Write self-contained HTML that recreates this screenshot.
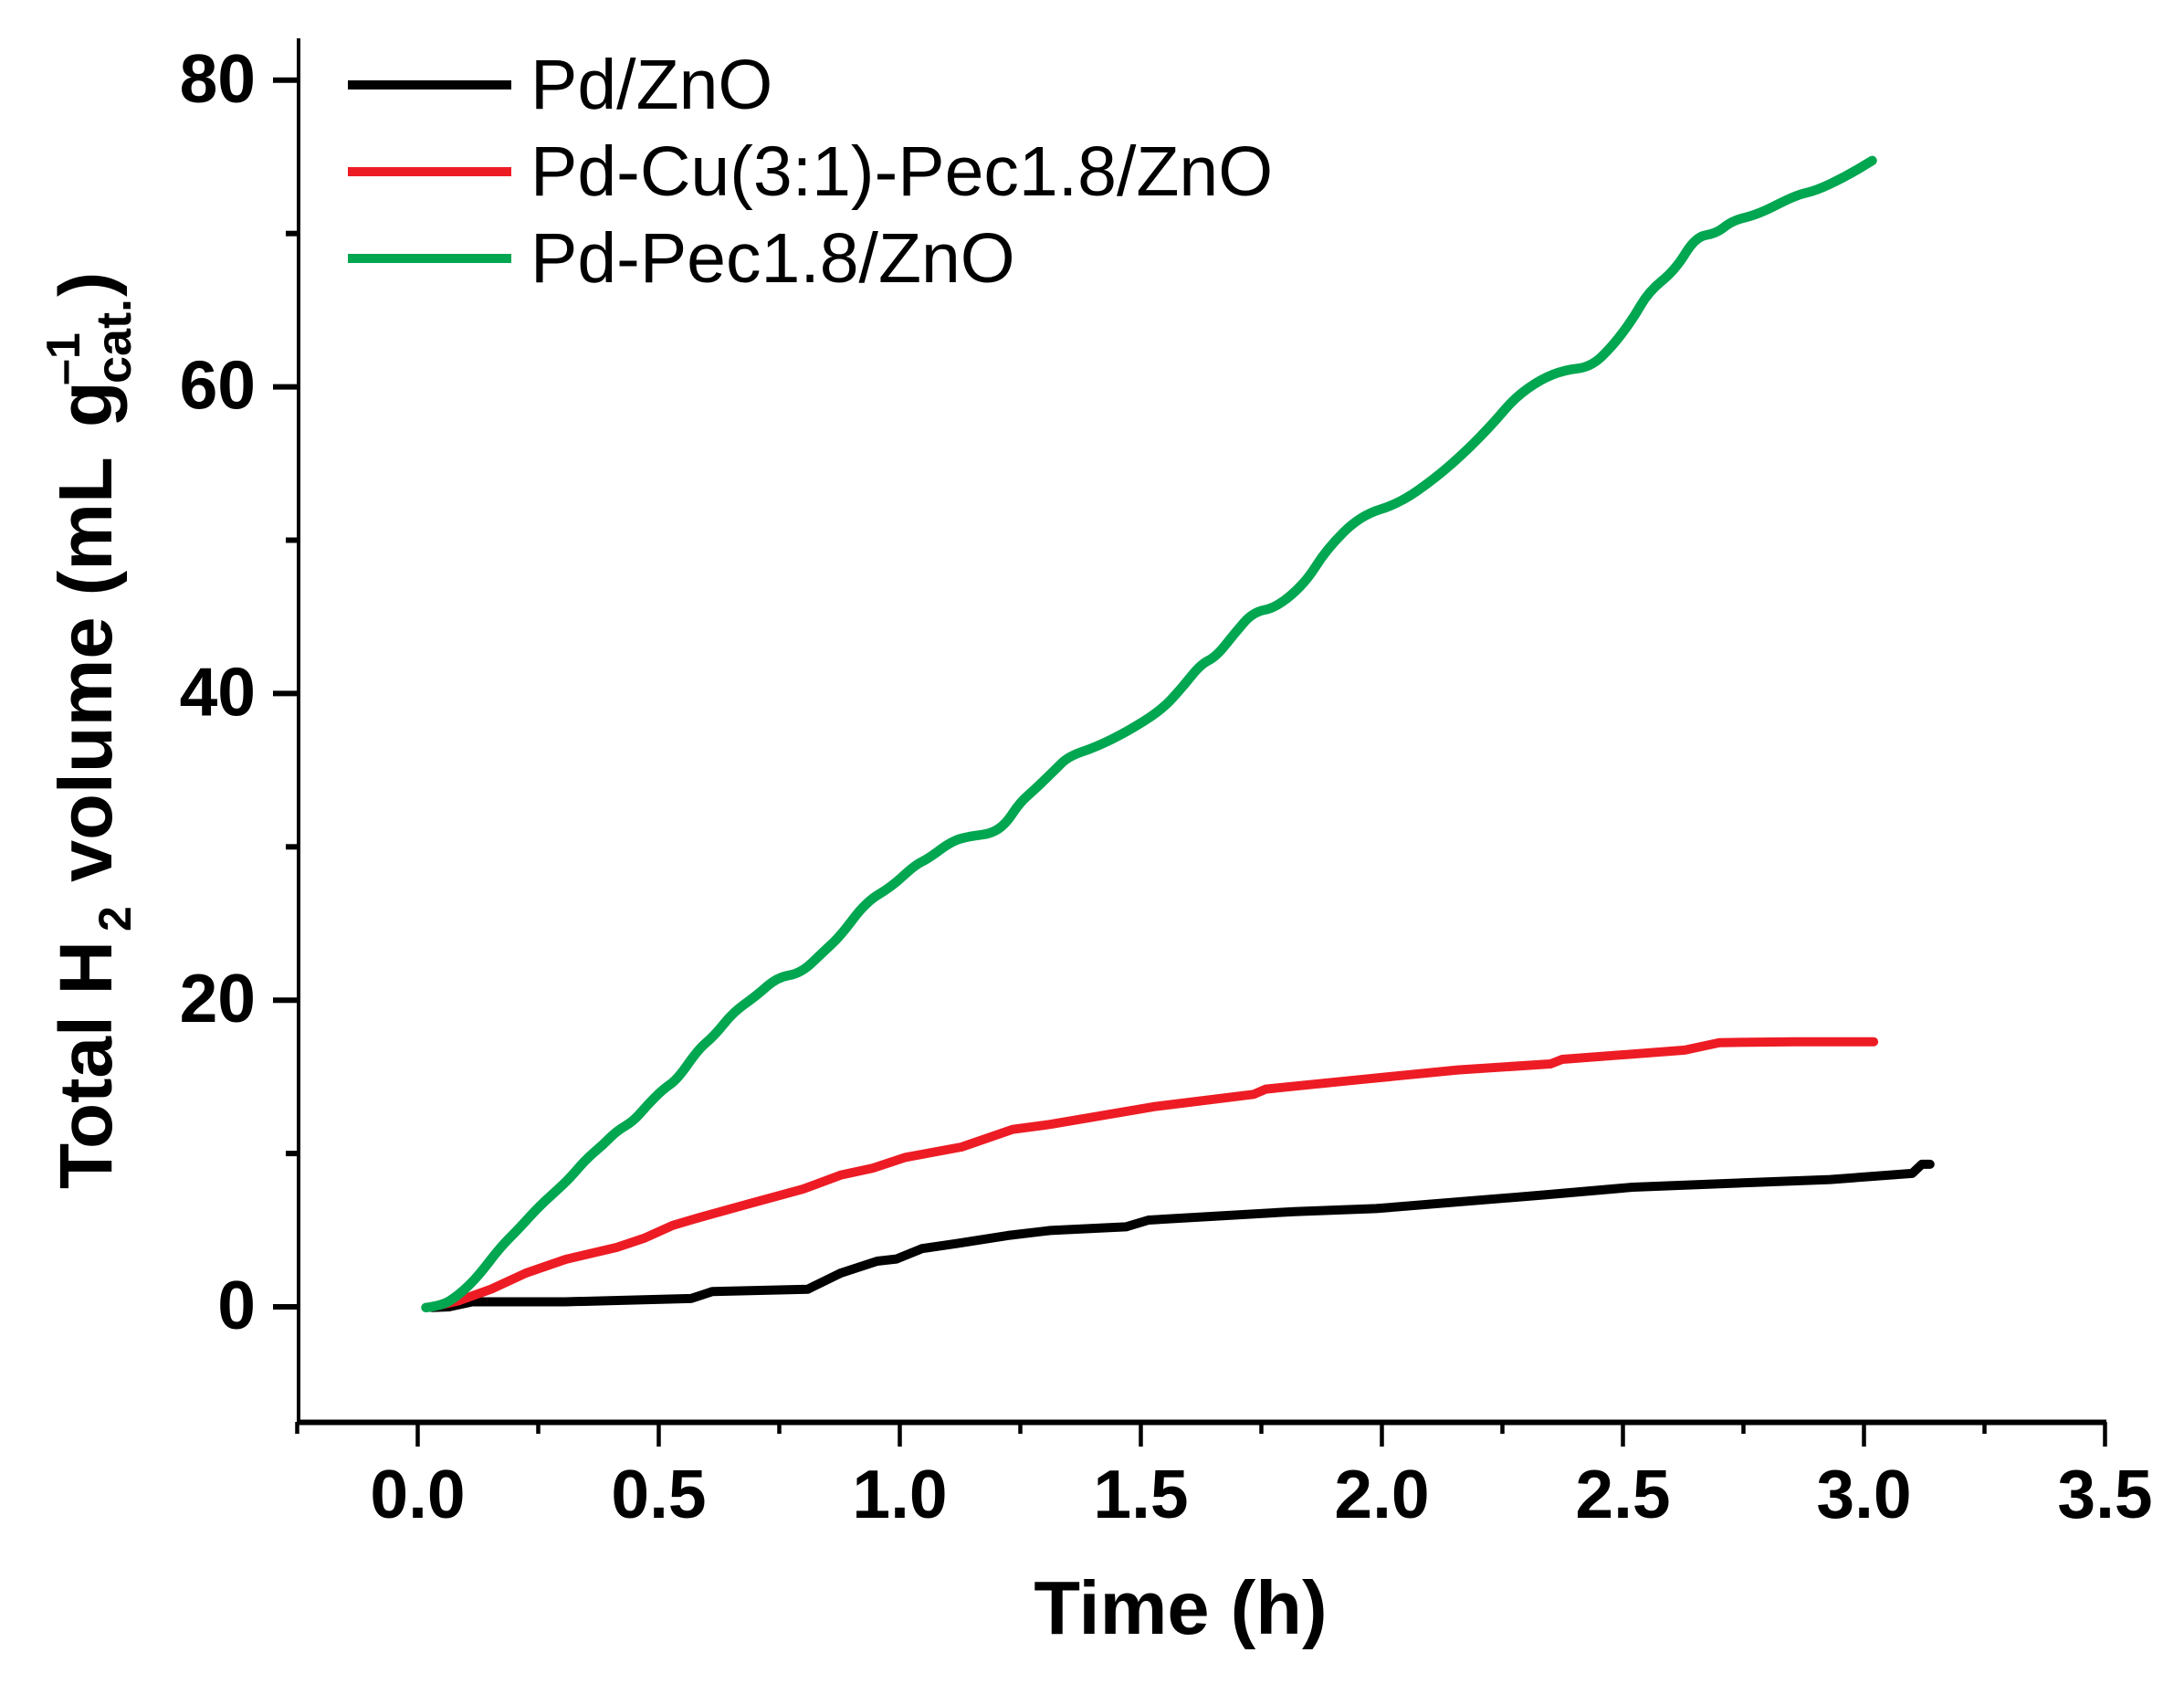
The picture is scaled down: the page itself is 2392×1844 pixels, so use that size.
<!DOCTYPE html>
<html lang="en">
<head>
<meta charset="utf-8">
<title>Total H2 volume over time</title>
<style>
html,body{margin:0;padding:0;background:#fff;width:2392px;height:1844px;overflow:hidden}
svg{display:block}
text{font-family:"Liberation Sans",Arial,sans-serif;fill:#000}
.b{font-weight:bold}
</style>
</head>
<body>
<svg id="chart" xmlns="http://www.w3.org/2000/svg" width="2392" height="1844" viewBox="0 0 2392 1844">
  <rect x="0" y="0" width="2392" height="1844" fill="#fff"/>
  <g id="ticks"></g>
  <rect x="325" y="42" width="4" height="1518" fill="#000"/>
  <rect x="325" y="1554.5" width="1982" height="6" fill="#000"/>
  <g id="series"></g>

  <g transform="translate(122,1302) rotate(-90)">
    <text class="b" x="0" y="0" font-size="82">Total H</text>
    <text class="b" x="282" y="21" font-size="50">2</text>
    <text class="b" x="336" y="0" font-size="83">volume (mL</text>
    <text class="b" x="834" y="0" font-size="83">g</text>
    <text class="b" x="882" y="21" font-size="54">cat.</text>
    <text class="b" x="880" y="-35" font-size="52">–1</text>
    <text class="b" x="977" y="0" font-size="82">)</text>
  </g>
  <text class="b" x="1293" y="1789" font-size="83" text-anchor="middle">Time (h)</text>

  <g>
    <g>
      <line x1="381" x2="560" y1="93" y2="93" stroke="#000" stroke-width="10"/>
      <text x="581" y="119" font-size="77">Pd/ZnO</text>
    </g>
    <g>
      <line x1="381" x2="560" y1="188" y2="188" stroke="#ed1c24" stroke-width="10"/>
      <text x="581" y="214" font-size="77">Pd-Cu(3:1)-Pec1.8/ZnO</text>
    </g>
    <g>
      <line x1="381" x2="560" y1="283" y2="283" stroke="#00a650" stroke-width="10"/>
      <text x="581" y="309" font-size="77">Pd-Pec1.8/ZnO</text>
    </g>
  </g>
</svg>
<script>
const xMajorTicks = [0, 0.5, 1, 1.5, 2, 2.5, 3, 3.5];
const xMajorLabels = ["0.0", "0.5", "1.0", "1.5", "2.0", "2.5", "3.0", "3.5"];
const xMinorTicks = [-0.25, 0.25, 0.75, 1.25, 1.75, 2.25, 2.75, 3.25];
const yMajorTicks = [0, 20, 40, 60, 80];
const yMajorLabels = ["0", "20", "40", "60", "80"];
const yMinorTicks = [10, 30, 50, 70];

const blackTime = [0.03,0.065,0.113,0.306,0.567,0.611,0.809,0.877,0.953,0.993,1.046,1.118,1.224,1.312,1.469,1.516,1.819,1.988,2.338,2.52,2.76,2.93,3.1,3.12,3.137];
const blackVolume = [-0.05,0,0.33,0.33,0.54,1.0,1.15,2.2,2.98,3.12,3.8,4.13,4.65,4.98,5.22,5.66,6.21,6.41,7.3,7.8,8.1,8.3,8.7,9.3,9.3];

const redTime = [0.03,0.084,0.152,0.224,0.307,0.413,0.471,0.529,0.587,0.693,0.799,0.877,0.944,1.012,1.128,1.234,1.312,1.529,1.734,1.759,1.964,2.157,2.35,2.374,2.628,2.7,2.857,3.02];
const redVolume = [0,0.39,1.15,2.2,3.1,3.88,4.49,5.31,5.85,6.77,7.68,8.59,9.05,9.75,10.42,11.57,11.9,13.06,13.86,14.2,14.85,15.45,15.84,16.14,16.74,17.23,17.29,17.29];

const greenTime = [0.017,0.051,0.084,0.123,0.171,0.21,0.253,0.297,0.321,0.35,0.384,0.413,0.447,0.476,0.509,0.538,0.582,0.616,0.654,0.703,0.746,0.795,0.843,0.877,0.93,0.983,1.031,1.06,1.109,1.147,1.19,1.22,1.249,1.282,1.321,1.35,1.406,1.471,1.542,1.586,1.624,1.656,1.694,1.732,1.781,1.841,1.885,1.955,2.037,2.113,2.178,2.233,2.276,2.33,2.379,2.433,2.477,2.52,2.553,2.608,2.651,2.694,2.727,2.781,2.858,2.901,2.961,3.017];
const greenVolume = [-0.05,0.08,0.75,1.9,3.88,5.1,6.6,7.83,8.6,9.65,10.56,11.48,12.09,13.15,14.2,14.82,16.8,17.7,19.2,20.3,21.5,21.75,23.2,24.2,26.4,27.4,28.8,29.25,30.4,30.7,30.86,31.5,32.9,33.8,35.0,35.9,36.5,37.5,38.9,40.4,41.9,42.4,43.9,45.3,45.6,47.2,49.4,51.6,52.4,54.1,55.9,57.7,59.3,60.5,61.1,61.3,62.6,64.4,66.2,67.6,69.8,70.0,70.85,71.25,72.5,72.8,73.7,74.75];

const NS = "http://www.w3.org/2000/svg";
function xScale(t) { return 457.5 + 528 * t; }
function yScale(v) { return 1431 - 16.79 * v; }

function makeLine(x1, y1, x2, y2, w) {
  const el = document.createElementNS(NS, "line");
  el.setAttribute("x1", x1);
  el.setAttribute("y1", y1);
  el.setAttribute("x2", x2);
  el.setAttribute("y2", y2);
  el.setAttribute("stroke", "#000");
  el.setAttribute("stroke-width", w);
  return el;
}
function makeLabel(x, y, anchor, str) {
  const el = document.createElementNS(NS, "text");
  el.setAttribute("x", x);
  el.setAttribute("y", y);
  el.setAttribute("text-anchor", anchor);
  el.setAttribute("font-size", "75");
  el.setAttribute("class", "b");
  el.textContent = str;
  return el;
}

const tickGroup = document.getElementById("ticks");
xMajorTicks.forEach(function (t, i) {
  const tick = makeLine(xScale(t), 1557, xScale(t), 1584, 4.5);
  
  
  tickGroup.appendChild(tick);
  const label = makeLabel(xScale(t), 1662, "middle", xMajorLabels[i]);
  
  
  tickGroup.appendChild(label);
});
xMinorTicks.forEach(function (t) {
  const tick = makeLine(xScale(t), 1557, xScale(t), 1570, 4.5);
  
  
  tickGroup.appendChild(tick);
});
yMajorTicks.forEach(function (v, i) {
  const tick = makeLine(299, yScale(v), 327, yScale(v), 6);
  
  
  tickGroup.appendChild(tick);
  const label = makeLabel(280, yScale(v) + 24, "end", yMajorLabels[i]);
  
  
  tickGroup.appendChild(label);
});
yMinorTicks.forEach(function (v) {
  const tick = makeLine(313, yScale(v), 327, yScale(v), 6);
  
  
  tickGroup.appendChild(tick);
});

function makeSeries(times, values, color, width, smooth) {
  const el = document.createElementNS(NS, "path");
  const pts = times.map(function (t, i) {
    return [xScale(t), yScale(values[i])];
  });
  let d = "M" + pts[0][0].toFixed(1) + " " + pts[0][1].toFixed(1);
  for (let i = 1; i < pts.length; i++) {
    if (smooth && i < pts.length - 1) {
      const mx = (pts[i][0] + pts[i + 1][0]) / 2;
      const my = (pts[i][1] + pts[i + 1][1]) / 2;
      d += " Q" + pts[i][0].toFixed(1) + " " + pts[i][1].toFixed(1) + " " + mx.toFixed(1) + " " + my.toFixed(1);
    } else {
      d += " L" + pts[i][0].toFixed(1) + " " + pts[i][1].toFixed(1);
    }
  }
  el.setAttribute("d", d);
  el.setAttribute("fill", "none");
  el.setAttribute("stroke", color);
  el.setAttribute("stroke-width", width);
  el.setAttribute("stroke-linejoin", "round");
  el.setAttribute("stroke-linecap", "round");
  return el;
}
const seriesGroup = document.getElementById("series");
const blackLine = makeSeries(blackTime, blackVolume, "#000", 10, false);


seriesGroup.appendChild(blackLine);
const redLine = makeSeries(redTime, redVolume, "#ed1c24", 10, false);


seriesGroup.appendChild(redLine);
const greenLine = makeSeries(greenTime, greenVolume, "#00a650", 10.5, true);


seriesGroup.appendChild(greenLine);
</script>
</body>
</html>
